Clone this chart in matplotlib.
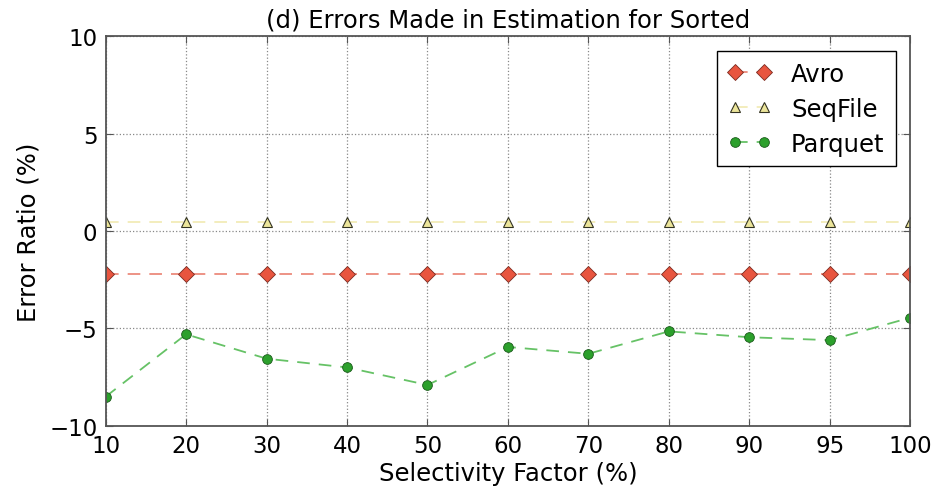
import numpy as np
import matplotlib
matplotlib.use("Agg")
import matplotlib.pyplot as plt

# Data
selectivity = ['10', '20', '30', '40', '50', '60', '70', '80', '90', '95', '100']
avro = [-2.2, -2.2, -2.2, -2.2, -2.2, -2.2, -2.2, -2.2, -2.2, -2.2, -2.2]
seqfile = [0.45, 0.45, 0.45, 0.45, 0.45, 0.45, 0.45, 0.45, 0.45, 0.45, 0.45]
parquet = [-8.5, -5.3, -6.55, -7.0, -7.9, -5.95, -6.3, -5.15, -5.45, -5.6, -4.45]

x = np.arange(len(selectivity))

fig = plt.figure(figsize=(9.52, 4.89), dpi=100)
ax = fig.add_axes([0.111, 0.127, 0.845, 0.797])

ax.plot(x, avro, linestyle='--', color='#ec8a7c', dashes=(7, 5), linewidth=1.3,
        marker='D', markersize=8, markerfacecolor='#e8553f',
        markeredgecolor='#7a2a20', markeredgewidth=0.6, label='Avro')
ax.plot(x, seqfile, linestyle='--', color='#f2ecb8', dashes=(7, 5), linewidth=1.3,
        marker='^', markersize=7, markerfacecolor='#ece59a',
        markeredgecolor='#333322', markeredgewidth=0.8, label='SeqFile')
ax.plot(x, parquet, linestyle='--', color='#66c266', dashes=(7, 5), linewidth=1.3,
        marker='o', markersize=7, markerfacecolor='#2ca02c',
        markeredgecolor='#1a5a1a', markeredgewidth=0.6, label='Parquet')

ax.set_xlim(0, len(selectivity) - 1)
ax.set_ylim(-10, 10)
ax.set_xticks(x)
ax.set_xticklabels(selectivity)
ax.set_yticks([-10, -5, 0, 5, 10])
ax.tick_params(direction='in', top=True, right=True, labelsize=16.5, length=5, pad=6,
               color='#555555')
ax.grid(True, color='#888888', linestyle=':', linewidth=0.9)

for s in ax.spines.values():
    s.set_color('#555555')
    s.set_linewidth(1.3)

ax.set_xlabel('Selectivity Factor (%)', fontsize=17.5, labelpad=3)
ax.set_ylabel('Error Ratio (%)', fontsize=17.5, labelpad=6)
ax.set_title('(d) Errors Made in Estimation for Sorted', fontsize=17.5, pad=7)

leg = ax.legend(loc='upper right', fontsize=17.5, numpoints=2, fancybox=False,
                framealpha=1, borderpad=0.45, handlelength=1.8, labelspacing=0.45,
                borderaxespad=0.6)
leg.get_frame().set_edgecolor('black')
leg.get_frame().set_linewidth(1.0)

fig.savefig('out.png', dpi=100)
